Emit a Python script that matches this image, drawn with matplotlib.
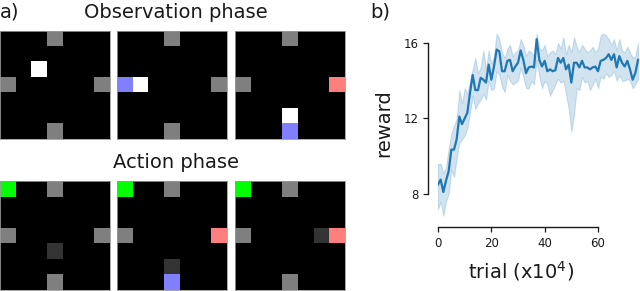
import numpy as np
import matplotlib
matplotlib.use("Agg")
import matplotlib.pyplot as plt
from matplotlib.colors import to_rgb

# ---------------- data ----------------
trial = list(range(0, 76))
reward_mean = [8.5, 8.76, 8.1, 8.7, 9.2, 10.35, 10.35, 10.9, 12.1, 11.7,
               12.0, 12.3, 13.35, 14.3, 13.5, 13.5, 14.15, 14.05, 13.9, 14.85,
               14.05, 14.75, 15.65, 15.55, 14.5, 14.5, 15.05, 15.1, 14.5, 14.75,
               14.95, 15.6, 15.1, 14.4, 14.7, 14.75, 14.7, 16.2, 15.1, 14.75,
               15.05, 14.5, 14.6, 14.5, 14.55, 15.2, 14.95, 15.2, 14.6, 14.85,
               13.9, 14.95, 14.95, 14.7, 15.05, 14.7, 14.7, 14.6, 14.7, 14.75,
               14.5, 15.05, 15.1, 15.2, 15.4, 15.1, 15.4, 14.7, 15.3, 14.95,
               14.75, 15.05, 14.6, 14.05, 14.4, 15.1]
reward_low = [7.2, 7.6, 6.85, 7.6, 8.0, 9.3, 8.9, 9.9, 10.7, 10.9,
              11.1, 11.5, 12.3, 13.2, 12.5, 12.8, 13.0, 13.3, 13.0, 14.0,
              13.5, 13.6, 14.5, 14.3, 13.7, 13.4, 14.3, 14.0, 13.8, 13.9,
              14.0, 14.7, 14.2, 13.6, 13.6, 14.0, 13.8, 15.1, 14.2, 13.6,
              14.0, 13.8, 13.2, 13.5, 13.8, 14.1, 13.9, 14.0, 13.3, 12.5,
              11.3, 12.2, 13.6, 13.5, 14.2, 13.9, 14.0, 13.5, 13.8, 14.1,
              13.6, 14.2, 14.1, 14.4, 14.2, 14.3, 14.5, 14.0, 14.3, 14.0,
              14.0, 14.1, 14.0, 13.6, 13.8, 14.1]
reward_high = [9.6, 9.6, 9.1, 9.4, 10.4, 11.2, 11.6, 12.0, 13.5, 12.8,
               13.6, 13.3, 14.0, 14.6, 15.2, 14.4, 14.7, 15.6, 14.6, 15.6,
               14.9, 15.3, 16.5, 16.2, 15.5, 15.2, 15.7, 15.9, 15.3, 15.5,
               15.6, 16.2, 15.9, 15.3, 15.6, 15.5, 15.3, 16.5, 15.7, 15.6,
               15.9, 15.3, 15.5, 15.6, 15.4, 16.0, 15.7, 16.3, 15.4, 15.9,
               15.5, 16.3, 15.8, 15.5, 15.9, 15.7, 15.5, 15.6, 15.8, 15.5,
               15.7, 16.4, 16.5, 16.4, 16.2, 15.9, 16.2, 15.6, 16.2, 15.6,
               15.5, 15.8, 15.5, 15.2, 15.3, 16.0]
x_ticks = [0, 20, 40, 60]
y_ticks = [8, 12, 16]

# grid worlds (7x7): . black, g gray, W white, B blue, R red, G green, d dark
obs_grids = [
    ["...g...", ".......", "..W....", "g.....g", ".......", ".......", "...g..."],
    ["...g...", ".......", ".......", "BW....g", ".......", ".......", "...g..."],
    ["...g...", ".......", ".......", "g.....R", ".......", "...W...", "...B..."],
]
act_grids = [
    ["G..g...", ".......", ".......", "g.....g", "...d...", ".......", "...g..."],
    ["G..g...", ".......", ".......", "g.....R", ".......", "...d...", "...B..."],
    ["G..g...", ".......", ".......", "g....dR", ".......", ".......", "...g..."],
]
cell_colors = {".": "#000000", "g": "#7f7f7f", "W": "#ffffff", "B": "#8080ff",
               "R": "#ff7f7f", "G": "#00ff00", "d": "#333333"}

# ---------------- figure ----------------
W, H = 640, 291
fig = plt.figure(figsize=(6.4, 2.91), dpi=100)


def px_axes(x0, y0, x1, y1):
    return fig.add_axes([x0 / W, 1 - y1 / H, (x1 - x0) / W, (y1 - y0) / H])


def grid_img(rows):
    return np.array([[to_rgb(cell_colors[c]) for c in r] for r in rows])


lefts = [0, 117, 235]
pw = 110
for grids, (y0, y1) in [(obs_grids, (31, 139)), (act_grids, (181, 290))]:
    for g, x0 in zip(grids, lefts):
        ax = px_axes(x0, y0, x0 + pw, y1)
        ax.imshow(grid_img(g), interpolation="nearest", aspect="auto")
        ax.set_xticks([])
        ax.set_yticks([])
        for s in ax.spines.values():
            s.set_color("#9a9a9a")
            s.set_linewidth(0.6)

txtc = "#1a1a1a"
fig.text(0 / W, 1 - 12 / H, "a)", fontsize=14, color=txtc, va="center", ha="left")
fig.text(176 / W, 1 - 12 / H, "Observation phase", fontsize=14, color=txtc,
         va="center", ha="center")
fig.text(176 / W, 1 - 163 / H, "Action phase", fontsize=14, color=txtc,
         va="center", ha="center")
fig.text(370 / W, 1 - 12 / H, "b)", fontsize=14, color=txtc, va="center", ha="left")

# reward plot
ax = px_axes(438, 31, 640, 217)
col = "#1f77b4"
ax.fill_between(trial, reward_low, reward_high, color=col, alpha=0.2, linewidth=0.8)
ax.plot(trial, reward_mean, color=col, linewidth=1.6)
ax.set_xlim(0, 75.75)
ax.set_ylim(6.78, 16.63)
ax.set_xticks(x_ticks)
ax.set_yticks(y_ticks)
ax.tick_params(labelsize=8.5, length=3.5, width=0.9, colors=txtc)
for s in ["top", "right"]:
    ax.spines[s].set_visible(False)
ax.spines["left"].set_position(("outward", 7.2))
ax.spines["bottom"].set_position(("outward", 7.2))
ax.spines["left"].set_bounds(8, 16)
ax.spines["bottom"].set_bounds(0, 60)
for s in ["left", "bottom"]:
    ax.spines[s].set_color(txtc)
    ax.spines[s].set_linewidth(1.0)
ax.patch.set_visible(False)

fig.text(384 / W, 1 - 123 / H, "reward", fontsize=14, color=txtc, rotation=90,
         va="center", ha="center")
fig.text(521 / W, 1 - 271 / H, "trial (x10$^4$)", fontsize=14, color=txtc,
         va="center", ha="center")

fig.savefig("out.png", dpi=100)
